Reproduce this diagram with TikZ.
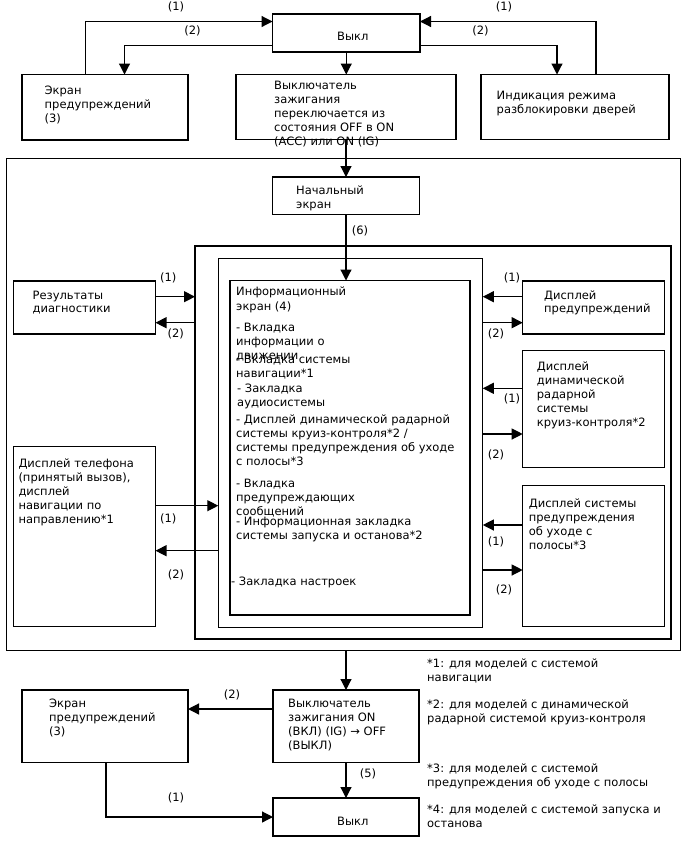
\documentclass[tikz,border=0pt]{standalone}
\usepackage{fontspec}
\setmainfont{DejaVu Sans}
\usetikzlibrary{arrows.meta,calc}

\begin{document}
\begin{tikzpicture}[x=1pt, y=-1pt, line join=miter]
  \definecolor{Ink}{HTML}{000000}

  \tikzset{
    box/.style={draw=Ink, line width=1.2pt, anchor=north west, inner sep=0pt, outer sep=0pt},
    txt/.style={anchor=north west, inner sep=0pt, align=left, text=Ink, font=\fontsize{11.5}{14}\selectfont},
    num/.style={inner sep=0pt, text=Ink, font=\fontsize{11.5}{14}\selectfont},
    arr/.style={draw=Ink, line width=1.2pt, -{Triangle[length=11pt,width=11pt]}}
  }

  \path[use as bounding box, fill=white] (0,0) rectangle (688,852);

  % Boxes and frames
  \foreach \n/\x/\y/\w/\h in {
    vykl/272.5/14/147.5/38,
    ekrA/22/74.5/166/65.5,
    ignA/236/74.5/220/65,
    door/481/74.5/188/65,
    outer/6.5/158.5/674/492,
    start/272.5/177/147/37.5,
    frameB/195/246/476/393,
    frameC/218.3/258.5/264.5/368.8,
    info/230/280.5/240/334.5,
    diag/13.5/281/142/53,
    phone/13.5/446.7/142/180,
    warn/522.7/281/141.6/53,
    radar/522.7/350.7/141.6/117,
    lane/522.7/485.7/141.6/141,
    ekrB/22/690/166/72.5,
    ignB/273/690/146/72.5,
    vyklB/273/798/146/38
  } {
    \node[box, minimum width=\w pt, minimum height=\h pt] (\n) at (\x,\y) {};
  }

  % Texts in the boxes
  \node[txt] (tVykl) at (337,30.9) {\strut Выкл};
  \node[txt] (tEkrA) at (44.5,84.2) {\strut Экран\\предупреждений\\(3)};
  \node[txt] (tIgnA) at (274,79.2) {\strut Выключатель\\зажигания\\переключается из\\состояния OFF в ON\\(ACC) или ON (IG)};
  \node[txt] (tDoor) at (496.5,89.9) {\strut Индикация режима\\разблокировки дверей};
  \node[txt] (tStart) at (296,184.2) {\strut Начальный\\экран};
  \node[txt] (tInfo) at (236,285.9) {\strut Информационный\\[1pt]экран (4)};
  \node[txt] (tTraffic) at (236,321.9) {\strut - Вкладка\\информации о\\движении};
  \node[txt] (tNavi) at (236,353.2) {\strut - Вкладка системы\\навигации*1};
  \node[txt] (tAudio) at (237,382.2) {\strut - Закладка\\аудиосистемы};
  \node[txt] (tRadarTab) at (236,413.5) {\strut - Дисплей динамической радарной\\системы круиз-контроля*2 /\\системы предупреждения об уходе\\с полосы*3};
  \node[txt] (tMsg) at (236,477.5) {\strut - Вкладка\\предупреждающих\\сообщений};
  \node[txt] (tStop) at (236,515.9) {\strut - Информационная закладка\\системы запуска и останова*2};
  \node[txt] (tSet) at (231,575.9) {\strut - Закладка настроек};
  \node[txt] (tDiag) at (32.5,289.9) {\strut Результаты\\[-1pt]диагностики};
  \node[txt] (tPhone) at (18.3,457.2) {\strut Дисплей телефона\\(принятый вызов),\\дисплей\\навигации по\\направлению*1};
  \node[txt] (tWarn) at (544,289.9) {\strut Дисплей\\[-1pt]предупреждений};
  \node[txt] (tRadar) at (536.7,360.9) {\strut Дисплей\\динамической\\радарной\\системы\\круиз-контроля*2};
  \node[txt] (tLane) at (528.7,497.5) {\strut Дисплей системы\\предупреждения\\об уходе с\\полосы*3};
  \node[txt] (tEkrB) at (49,697.2) {\strut Экран\\предупреждений\\(3)};
  \node[txt] (tIgnB) at (288,697.5) {\strut Выключатель\\зажигания ON\\(ВКЛ) (IG) → OFF\\(ВЫКЛ)};
  \node[txt] (tVyklB) at (337,815.2) {\strut Выкл};

  % Footnotes
  \node[txt] (note1) at (427,657.2) {\strut *1: для моделей с системой\\навигации};
  \node[txt] (note2) at (427,698.2) {\strut *2: для моделей с динамической\\радарной системой круиз-контроля};
  \node[txt] (note3) at (427,762.5) {\strut *3: для моделей с системой\\предупреждения об уходе с полосы};
  \node[txt] (note4) at (427,803.5) {\strut *4: для моделей с системой запуска и\\останова};

  % Top part
  \draw[arr] ($(ekrA.north west)+(63.5,0)$) |- ($(vykl.north west)+(0,7.5)$);
  \draw[arr] ($(vykl.south west)+(0,-6.5)$) -| ($(ekrA.north west)+(102.5,0)$);
  \draw[arr] ($(door.north west)+(115,0)$) |- ($(vykl.north east)+(0,7.5)$);
  \draw[arr] ($(vykl.south east)+(0,-6.5)$) -| ($(door.north west)+(76,0)$);
  \draw[arr] (vykl.south) -- (vykl.south |- ignA.north);
  \draw[arr] (ignA.south) -- (ignA.south |- start.north);
  \draw[arr] (start.south) -- (start.south |- info.north);

  % Left side
  \coordinate (d1) at ($(diag.north east)+(0,15.7)$);
  \coordinate (d2) at ($(diag.north east)+(0,41.7)$);
  \draw[arr] (d1) -- (d1 -| frameB.west);
  \draw[arr] (d2 -| frameB.west) -- (d2);
  \coordinate (p1) at ($(phone.north east)+(0,59)$);
  \coordinate (p2) at ($(phone.north east)+(0,104)$);
  \draw[arr] (p1) -- (p1 -| frameC.west);
  \draw[arr] (p2 -| frameC.west) -- (p2);

  % Right side
  \coordinate (w1) at ($(warn.north west)+(0,15.7)$);
  \coordinate (w2) at ($(warn.north west)+(0,41.7)$);
  \coordinate (r1) at ($(radar.north west)+(0,37.6)$);
  \coordinate (r2) at ($(radar.north west)+(0,83.3)$);
  \coordinate (s1) at ($(lane.north west)+(0,39.3)$);
  \coordinate (s2) at ($(lane.north west)+(0,84.3)$);
  \foreach \c in {w1,r1,s1} \draw[arr] (\c) -- (\c -| frameC.east);
  \foreach \c in {w2,r2,s2} \draw[arr] (\c -| frameC.east) -- (\c);

  % Bottom part
  \draw[arr] (start.south |- outer.south) -- (start.south |- ignB.north);
  \coordinate (b2) at ($(ignB.north west)+(0,19)$);
  \draw[arr] (b2) -- (b2 -| ekrB.east);
  \draw[arr] (ignB.south) -- (ignB.south |- vyklB.north);
  \draw[arr] ($(ekrB.south west)+(84,0)$) |- (vyklB.west);

  % Step numbers
  \foreach \n/\x/\y/\lb in {
    lt1/176/6.5/(1), lt2/192.5/30.5/(2), rt1/504/6.5/(1), rt2/480.5/30.5/(2),
    s6/360/230.5/(6),
    dg1/168.3/278.3/(1), dg2/175.7/334.3/(2),
    wn1/512/278.3/(1), wn2/496/334.3/(2),
    rd1/512/398.7/(1), rd2/496/455/(2),
    ln1/496/542/(1), ln2/504/590/(2),
    ph1/168.3/519/(1), ph2/176/575/(2),
    bt2/232/695/(2), bt5/368/774/(5), bt1/176/798/(1)
  } {
    \node[num] (lab-\n) at (\x,\y) {\lb};
  }
\end{tikzpicture}
\end{document}
